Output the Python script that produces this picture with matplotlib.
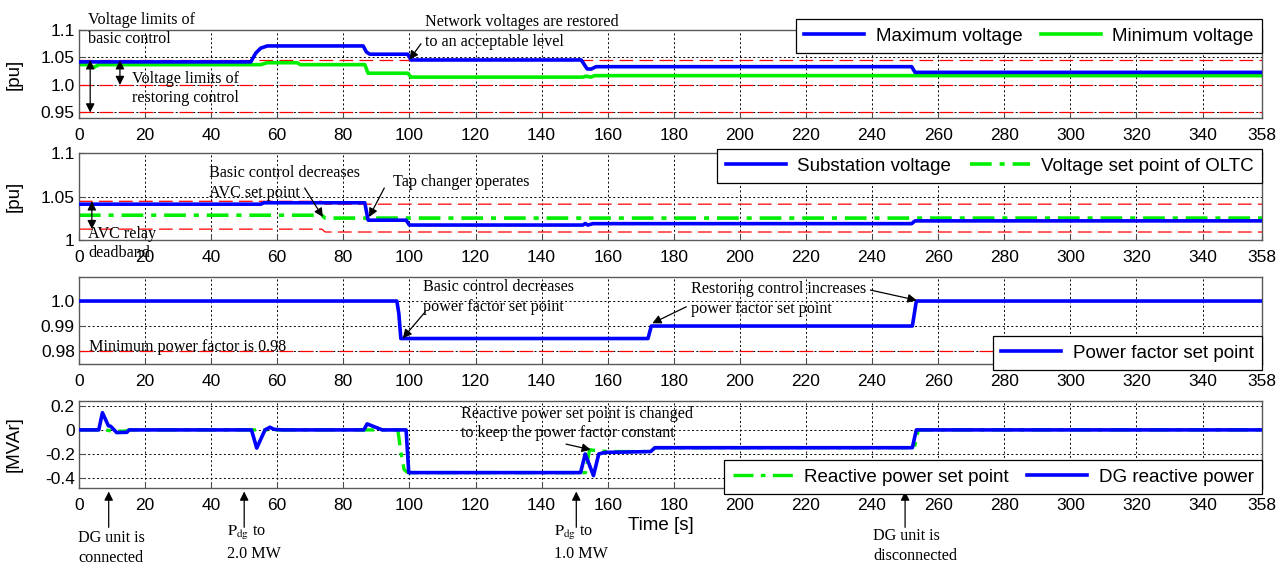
import matplotlib
matplotlib.use("Agg")
import matplotlib.pyplot as plt

plt.rcParams['font.family'] = ['Liberation Sans', 'DejaVu Sans']
plt.rcParams['mathtext.fontset'] = 'stix'

SERIF = 'Liberation Serif'
BLUE = '#0000ff'
GREEN = '#00ee00'
RED = '#ff0000'

# ---- panel 1: network voltages [pu]
t_vmax = [0, 52, 53.5, 55, 57, 86, 87, 88, 99.5, 100.5, 152, 153.8, 155, 156.5, 252, 253, 358]
v_vmax = [1.042, 1.042, 1.058, 1.067, 1.071, 1.071, 1.06, 1.056, 1.056, 1.0455, 1.0455, 1.0292,
          1.029, 1.0333, 1.0333, 1.023, 1.023]
t_vmin = [0, 3, 4.5, 6, 55, 57, 66, 67, 86.5, 87.5, 99.5, 100.5, 152.5, 153.5, 155, 156, 358]
v_vmin = [1.037, 1.037, 1.032, 1.037, 1.037, 1.0405, 1.0405, 1.037, 1.037, 1.0214, 1.0214, 1.0143,
          1.0143, 1.016, 1.0143, 1.017, 1.017]
limits_p1 = [1.045, 1.0, 0.95]

# ---- panel 2: substation voltage and OLTC set point [pu]
t_vsub = [0, 55, 56, 86.5, 87.5, 99, 100, 152.5, 153.2, 154, 155.5, 252, 253, 358]
v_vsub = [1.0412, 1.0412, 1.0428, 1.0428, 1.0228, 1.0228, 1.0172, 1.0172, 1.019, 1.0172, 1.0188,
          1.0188, 1.022, 1.022]
t_vset = [0, 73.5, 74.5, 358]
v_vset = [1.0285, 1.0285, 1.0252, 1.0252]
v_db_up = [1.0445, 1.0445, 1.0412, 1.0412]
v_db_lo = [1.0125, 1.0125, 1.0092, 1.0092]

# ---- panel 3: power factor set point
t_pf = [0, 96.2, 96.8, 97.4, 172.2, 173.2, 252.2, 253.4, 358]
v_pf = [1.0, 1.0, 0.995, 0.985, 0.985, 0.99, 0.99, 1.0, 1.0]
pf_min = 0.98

# ---- panel 4: reactive power [MVAr]
t_qdg = [0, 6, 7.1, 8.9, 9.6, 11.4, 14.5, 15.2, 52.2, 53.8, 56.3, 57.8, 59, 61.5, 86.2, 87.2, 91.8,
         99.0, 99.8, 151.8, 153.2, 155.7, 157.3, 159.2, 173, 174.3, 252.2, 253.4, 358]
v_qdg = [0, 0, 0.143, 0.035, 0.03, -0.022, -0.02, 0, 0, -0.151, 0, 0.022, 0.005, 0, 0, 0.05, 0,
         0, -0.355, -0.355, -0.2, -0.38, -0.2, -0.187, -0.18, -0.148, -0.148, 0, 0]
t_qset = [0, 8, 10, 14, 15.3, 96.5, 97.5, 98.4, 99.5, 153.3, 154.5, 156, 160, 173, 174.3, 252.8,
          254, 358]
v_qset = [0, 0, -0.01, -0.01, 0, 0, -0.2, -0.33, -0.355, -0.355, -0.165, -0.17, -0.18, -0.18,
          -0.148, -0.148, 0, 0]

xticks = list(range(0, 341, 20)) + [358]

fig = plt.figure(figsize=(12.88, 5.67), dpi=100)
L, W, H = 0.0613, 0.9185, 0.1534
ax1 = fig.add_axes([L, 0.7919, W, 0.1552])
ax2 = fig.add_axes([L, 0.5767, W, H])
ax3 = fig.add_axes([L, 0.3580, W, H])
ax4 = fig.add_axes([L, 0.1393, W, H])


def style(ax, yticks, ylabels, ylim):
    ax.set_xlim(0, 358)
    ax.set_ylim(*ylim)
    ax.set_xticks(xticks)
    ax.set_yticks(yticks)
    ax.set_yticklabels(ylabels)
    ax.grid(True, color='black', linestyle=(0, (2, 2.5)), linewidth=0.7)
    ax.set_axisbelow(True)
    ax.tick_params(direction='in', length=4, labelsize=12.5, color='0.3')
    ax.tick_params(axis='x', pad=7)
    ax.tick_params(axis='y', pad=3)
    for s in ax.spines.values():
        s.set_color('0.35')
        s.set_linewidth(1.0)


def red_line(ax, x, y):
    ax.plot(x, y, color=RED, lw=0.9, dashes=(11, 5), zorder=1.5)


def arrow(ax, xy, xytext, style='-|>'):
    ax.annotate('', xy=xy, xytext=xytext, annotation_clip=False,
                arrowprops=dict(arrowstyle=style, color='black', lw=0.9,
                                shrinkA=0, shrinkB=0, mutation_scale=13))


def note(ax, x, y, s):
    ax.text(x, y, s, family=SERIF, fontsize=11.6, ha='left', va='center',
            linespacing=1.3, clip_on=False)


legend_kw = dict(fontsize=13.5, frameon=True, fancybox=False, framealpha=1,
                 edgecolor='black', borderaxespad=0, handlelength=3.2,
                 borderpad=0.45, columnspacing=1.0, handletextpad=0.6)

# panel 1
style(ax1, [0.95, 1.0, 1.05, 1.1], ['0.95', '1.0', '1.05', '1.1'], (0.94, 1.1))
for lim in limits_p1:
    red_line(ax1, [0, 358], [lim, lim])
ax1.plot(t_vmax, v_vmax, color=BLUE, lw=2.6, label='Maximum voltage', zorder=3)
ax1.plot(t_vmin, v_vmin, color=GREEN, lw=2.6, label='Minimum voltage', zorder=2.5)
ax1.set_ylabel('[pu]', fontsize=13.5)
ax1.yaxis.set_label_coords(-0.048, 0.5)
arrow(ax1, (3.4, 0.95), (3.4, 1.045), '<|-|>')
arrow(ax1, (12.4, 1.0), (12.4, 1.045), '<|-|>')
note(ax1, 2.7, 1.1009, 'Voltage limits of\nbasic control')
note(ax1, 16, 0.9936, 'Voltage limits of\nrestoring control')
note(ax1, 104.8, 1.0964, 'Network voltages are restored\nto an acceptable level')
arrow(ax1, (100, 1.046), (103.5, 1.075))
lg = ax1.legend(loc='lower right', bbox_to_anchor=(1.0, 0.739), ncol=2, **legend_kw)
lg.get_frame().set_linewidth(0.9)

# panel 2
style(ax2, [1.0, 1.05, 1.1], ['1', '1.05', '1.1'], (1.0, 1.1))
red_line(ax2, t_vset, v_db_up)
red_line(ax2, t_vset, v_db_lo)
ax2.plot(t_vsub, v_vsub, color=BLUE, lw=2.6, label='Substation voltage', zorder=3)
ax2.plot(t_vset, v_vset, color=GREEN, lw=2.6, dashes=(6, 2.2, 1.4, 2.2),
         label='Voltage set point of OLTC', zorder=2.5)
ax2.set_ylabel('[pu]', fontsize=13.5)
ax2.yaxis.set_label_coords(-0.048, 0.5)
arrow(ax2, (3.9, 1.0125), (3.9, 1.0445), '<|-|>')
note(ax2, 2.7, 0.996, 'AVC relay\ndeadband')
note(ax2, 39.5, 1.0655, 'Basic control decreases\nAVC set point')
arrow(ax2, (73.8, 1.0264), (68.3, 1.0598))
note(ax2, 94.9, 1.067, 'Tap changer operates')
arrow(ax2, (87.8, 1.0264), (92.4, 1.0598))
lg = ax2.legend(loc='lower right', bbox_to_anchor=(1.0, 0.655), ncol=2, **legend_kw)
lg.get_frame().set_linewidth(0.9)

# panel 3
style(ax3, [0.98, 0.99, 1.0], ['0.98', '0.99', '1.0'], (0.9748, 1.0096))
red_line(ax3, [0, 358], [pf_min, pf_min])
ax3.plot(t_pf, v_pf, color=BLUE, lw=2.6, label='Power factor set point', zorder=3)
note(ax3, 3.1, 0.9815, 'Minimum power factor is 0.98')
note(ax3, 104.1, 1.0017, 'Basic control decreases\npower factor set point')
arrow(ax3, (98, 0.9851), (104.8, 0.9957))
note(ax3, 185.1, 1.0009, 'Restoring control increases\npower factor set point')
arrow(ax3, (253.5, 1.0003), (239.5, 1.0044))
arrow(ax3, (173.5, 0.9911), (183.8, 0.9977))
lg = ax3.legend(loc='lower right', bbox_to_anchor=(1.0, -0.069), **legend_kw)
lg.get_frame().set_linewidth(0.9)

# panel 4
style(ax4, [-0.4, -0.2, 0, 0.2], ['-0.4', '-0.2', '0', '0.2'], (-0.483, 0.24))
ax4.plot(t_qset, v_qset, color=GREEN, lw=2.4, dashes=(6, 2.2, 1.4, 2.2),
         label='Reactive power set point', zorder=2.5)
ax4.plot(t_qdg, v_qdg, color=BLUE, lw=2.6, label='DG reactive power', zorder=3)
ax4.set_ylabel('[MVAr]', fontsize=13.5)
ax4.yaxis.set_label_coords(-0.048, 0.5)
ax4.set_xlabel('Time [s]', fontsize=13.5)
ax4.xaxis.set_label_coords(0.492, -0.33)
note(ax4, 115.6, 0.052, 'Reactive power set point is changed\nto keep the power factor constant')
arrow(ax4, (154.9, -0.165), (147.4, -0.118))
lg = ax4.legend(loc='lower right', bbox_to_anchor=(1.0, -0.069), ncol=2, **legend_kw)
lg.get_frame().set_linewidth(0.9)

# events below the time axis
for xe in [9, 50, 150.5, 250]:
    arrow(ax4, (xe, -0.512), (xe, -0.81))
note(ax4, -0.3, -0.983, 'DG unit is\nconnected')
note(ax4, 44.8, -0.942, r'$\mathrm{P_{dg}}$ to' + '\n2.0 MW')
note(ax4, 143.7, -0.942, r'$\mathrm{P_{dg}}$ to' + '\n1.0 MW')
note(ax4, 240.4, -0.967, 'DG unit is\ndisconnected')

fig.savefig('out.png', dpi=100)
